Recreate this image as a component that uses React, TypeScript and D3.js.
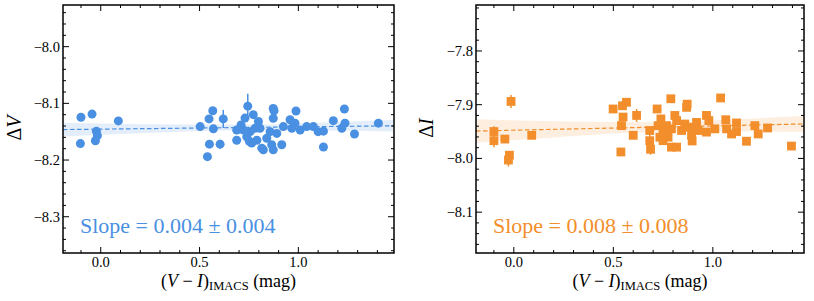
import * as d3 from "d3";
import React, { useRef, useEffect } from "react";

// color (V-I) vs residuals, [x, y, err]
const pointsV: number[][] = [
  [-0.10, -8.1245, 0.003], [-0.044, -8.119, 0.003], [0.089, -8.131, 0.003], [-0.022, -8.149, 0.003],
  [-0.017, -8.157, 0.003], [-0.027, -8.166, 0.003], [-0.103, -8.171, 0.003], [0.503, -8.141, 0.003],
  [0.567, -8.113, 0.003], [0.548, -8.1275, 0.003], [0.57, -8.145, 0.003], [0.62, -8.1275, 0.016],
  [0.55, -8.172, 0.003], [0.604, -8.172, 0.008], [0.54, -8.194, 0.003], [0.744, -8.105, 0.022],
  [0.73, -8.126, 0.003], [0.772, -8.12, 0.003], [0.798, -8.132, 0.003], [0.688, -8.147, 0.003],
  [0.688, -8.165, 0.003], [0.722, -8.147, 0.003], [0.756, -8.15, 0.003], [0.781, -8.144, 0.003],
  [0.806, -8.144, 0.003], [0.739, -8.159, 0.003], [0.764, -8.17, 0.003], [0.79, -8.165, 0.003],
  [0.815, -8.179, 0.003], [0.857, -8.15, 0.003], [0.873, -8.109, 0.003], [0.873, -8.1265, 0.003],
  [0.865, -8.173, 0.003], [0.916, -8.173, 0.003], [0.924, -8.141, 0.003], [0.958, -8.129, 0.003],
  [0.967, -8.144, 0.003], [0.891, -8.153, 0.003], [0.84, -8.1615, 0.003], [0.988, -8.1134, 0.003],
  [0.823, -8.182, 0.003], [0.873, -8.182, 0.003], [1.009, -8.147, 0.003], [1.042, -8.141, 0.003],
  [1.076, -8.141, 0.003], [1.10, -8.15, 0.003], [1.127, -8.149, 0.003], [1.127, -8.177, 0.003],
  [1.177, -8.1305, 0.003], [1.233, -8.11, 0.003], [1.236, -8.135, 0.003], [1.22, -8.144, 0.003],
  [1.284, -8.154, 0.003], [1.405, -8.135, 0.003], [0.877, -8.113, 0.003], [0.983, -8.135, 0.003],
  [0.752, -8.167, 0.003], [0.71, -8.138, 0.003],
];

const pointsI: number[][] = [
  [-0.014, -7.894, 0.012], [-0.10, -7.950, 0.010], [-0.10, -7.967, 0.012], [-0.045, -7.964, 0.006],
  [0.09, -7.957, 0.006], [-0.022, -7.994, 0.006], [-0.027, -8.003, 0.012], [0.499, -7.908, 0.003],
  [0.546, -7.902, 0.003], [0.566, -7.8955, 0.003], [0.549, -7.923, 0.003], [0.541, -7.939, 0.003],
  [0.617, -7.920, 0.012], [0.6, -7.957, 0.005], [0.538, -7.988, 0.003], [0.683, -7.948, 0.003],
  [0.683, -7.967, 0.015], [0.72, -7.908, 0.003], [0.739, -7.9265, 0.003], [0.789, -7.889, 0.003],
  [0.809, -7.92, 0.003], [0.75, -7.948, 0.003], [0.734, -7.9605, 0.003], [0.767, -7.939, 0.003],
  [0.775, -7.9605, 0.003], [0.792, -7.979, 0.003], [0.818, -7.979, 0.003], [0.75, -7.967, 0.003],
  [0.843, -7.948, 0.003], [0.868, -7.905, 0.003], [0.871, -7.899, 0.003], [0.859, -7.936, 0.003],
  [0.893, -7.957, 0.003], [0.884, -7.942, 0.003], [0.918, -7.933, 0.003], [0.926, -7.948, 0.003],
  [0.968, -7.920, 0.003], [0.968, -7.951, 0.003], [0.818, -7.9296, 0.003], [0.725, -7.939, 0.003],
  [0.792, -7.945, 0.003], [1.039, -7.8875, 0.003], [0.98, -7.9296, 0.003], [1.01, -7.945, 0.003],
  [1.065, -7.928, 0.003], [1.069, -7.945, 0.003], [1.119, -7.934, 0.003], [1.119, -7.950, 0.003],
  [1.094, -7.9545, 0.003], [1.169, -7.968, 0.003], [1.211, -7.939, 0.003], [1.228, -7.9545, 0.003],
  [1.275, -7.9433, 0.003], [1.395, -7.977, 0.003], [0.687, -7.983, 0.010], [0.896, -7.9675, 0.003],
];

// linear fits: [slope, intercept]
const fitV = [0.004, -8.1455];
const fitI = [0.008, -7.9475];

// confidence band half-widths read along x
const bandX = [-0.19, 0.2, 0.75, 1.1, 1.48];
const bandV = [0.012, 0.008, 0.005, 0.007, 0.010];
const bandI = [0.022, 0.015, 0.009, 0.011, 0.015];

const xTicks = [0.0, 0.5, 1.0];
const yTicksV = [-8.0, -8.1, -8.2, -8.3];
const yTicksI = [-7.8, -7.9, -8.0, -8.1];

const BLUE = "#4a90e2";
const ORANGE = "#f28e2b";
const FONT = "'Liberation Serif', 'Times New Roman', serif";

function Panel({ left, right, xDomain, yDomain, pts, fit, band, yTicks, color, marker, yLabel, slopeText, labelX }: any) {
  const ref = useRef<SVGGElement>(null);

  useEffect(() => {
    const g = d3.select(ref.current);
    g.selectAll("*").remove();
    const top = 5, bottom = 253;

    const x = d3.scaleLinear().domain(xDomain).range([left, right]);
    const y = d3.scaleLinear().domain(yDomain).range([bottom, top]);

    const clipId = "clip" + Math.round(left);
    g.append("clipPath").attr("id", clipId)
      .append("rect").attr("x", left).attr("y", top).attr("width", right - left).attr("height", bottom - top);
    const plot = g.append("g").attr("clip-path", `url(#${clipId})`);

    const line = (v: number) => fit[0] * v + fit[1];

    // band
    plot.append("path")
      .datum(bandX.map((v: number, i: number) => [v, band[i]]))
      .attr("fill", color).attr("fill-opacity", 0.15)
      .attr("d", d3.area<number[]>()
        .curve(d3.curveMonotoneX)
        .x(d => x(d[0]))
        .y0(d => y(line(d[0]) - d[1]))
        .y1(d => y(line(d[0]) + d[1])));

    // error bars
    plot.selectAll("line.err").data(pts).enter().append("line")
      .attr("x1", (d: any) => x(d[0])).attr("x2", (d: any) => x(d[0]))
      .attr("y1", (d: any) => y(d[1] - d[2])).attr("y2", (d: any) => y(d[1] + d[2]))
      .attr("stroke", color).attr("stroke-width", 1.5);

    // points
    if (marker === "circle") {
      plot.selectAll("circle").data(pts).enter().append("circle")
        .attr("cx", (d: any) => x(d[0])).attr("cy", (d: any) => y(d[1]))
        .attr("r", 4.5).attr("fill", color);
    } else {
      plot.selectAll("rect.pt").data(pts).enter().append("rect")
        .attr("x", (d: any) => x(d[0]) - 4.4).attr("y", (d: any) => y(d[1]) - 4.4)
        .attr("width", 8.8).attr("height", 8.8).attr("fill", color);
    }

    // fit line
    plot.append("line")
      .attr("x1", x(xDomain[0])).attr("x2", x(xDomain[1]))
      .attr("y1", y(line(xDomain[0]))).attr("y2", y(line(xDomain[1])))
      .attr("stroke", color).attr("stroke-width", 1.2).attr("stroke-dasharray", "4.5,2.5");

    // ticks on all four sides, pointing inward
    const xMinor = d3.range(-0.1, 1.45, 0.1).filter(v => v >= xDomain[0] && v <= xDomain[1]);
    xMinor.forEach(v => {
      const major = xTicks.some(t => Math.abs(t - v) < 1e-6);
      const len = major ? 6 : 3;
      g.append("line").attr("x1", x(v)).attr("x2", x(v)).attr("y1", bottom).attr("y2", bottom - len).attr("stroke", "#000");
      g.append("line").attr("x1", x(v)).attr("x2", x(v)).attr("y1", top).attr("y2", top + len).attr("stroke", "#000");
    });
    const yMinor = d3.range(Math.ceil(yDomain[0] * 50) / 50, yDomain[1], 0.02);
    yMinor.forEach(v => {
      const major = yTicks.some((t: number) => Math.abs(t - v) < 1e-6);
      const len = major ? 6 : 3;
      g.append("line").attr("y1", y(v)).attr("y2", y(v)).attr("x1", left).attr("x2", left + len).attr("stroke", "#000");
      g.append("line").attr("y1", y(v)).attr("y2", y(v)).attr("x1", right).attr("x2", right - len).attr("stroke", "#000");
    });

    // tick labels
    g.selectAll("text.xt").data(xTicks).enter().append("text")
      .attr("x", (d: number) => x(d)).attr("y", 267)
      .attr("text-anchor", "middle").attr("font-size", 14.5).attr("font-family", FONT)
      .text((d: number) => d.toFixed(1));
    g.selectAll("text.yt").data(yTicks).enter().append("text")
      .attr("x", left - 3).attr("y", (d: number) => y(d) + 5)
      .attr("text-anchor", "end").attr("font-size", 14.5).attr("font-family", FONT)
      .text((d: number) => "\u2212" + Math.abs(d).toFixed(1));

    // frame
    g.append("rect").attr("x", left).attr("y", top).attr("width", right - left).attr("height", bottom - top)
      .attr("fill", "none").attr("stroke", "#000").attr("stroke-width", 1.5);

    // slope annotation
    g.append("text").attr("x", left + 17).attr("y", 233)
      .attr("font-size", 22).attr("font-family", FONT).attr("fill", color)
      .text(slopeText);

    // y label
    const yl = g.append("text")
      .attr("transform", `translate(${labelX},128) rotate(-90)`)
      .attr("text-anchor", "middle").attr("font-size", 20).attr("font-family", FONT);
    yl.append("tspan").text("\u0394");
    yl.append("tspan").attr("font-style", "italic").text(yLabel);

    // x label
    const xl = g.append("text")
      .attr("x", (left + right) / 2).attr("y", 287)
      .attr("text-anchor", "middle").attr("font-size", 18).attr("font-family", FONT);
    xl.append("tspan").text("(");
    xl.append("tspan").attr("font-style", "italic").text("V");
    xl.append("tspan").text(" \u2212 ");
    xl.append("tspan").attr("font-style", "italic").text("I");
    xl.append("tspan").text(")");
    xl.append("tspan").attr("font-size", 12.5).attr("dy", 3).text("IMACS");
    xl.append("tspan").attr("dy", -3).text(" (mag)");
  }, []);

  return <g ref={ref}></g>;
}

export default function App() {
  return (
    <svg width={814} height={301} style={{ position: "absolute", left: 0, top: 0, background: "#fff" }}>
      <Panel left={63} right={394} xDomain={[-0.191, 1.484]} yDomain={[-8.364, -7.9265]}
        pts={pointsV} fit={fitV} band={bandV} yTicks={yTicksV} color={BLUE} marker="circle"
        yLabel="V" slopeText="Slope = 0.004 ± 0.004" labelX={21} />
      <Panel left={476} right={804} xDomain={[-0.19, 1.458]} yDomain={[-8.176, -7.7145]}
        pts={pointsI} fit={fitI} band={bandI} yTicks={yTicksI} color={ORANGE} marker="square"
        yLabel="I" slopeText="Slope = 0.008 ± 0.008" labelX={433} />
    </svg>
  );
}
